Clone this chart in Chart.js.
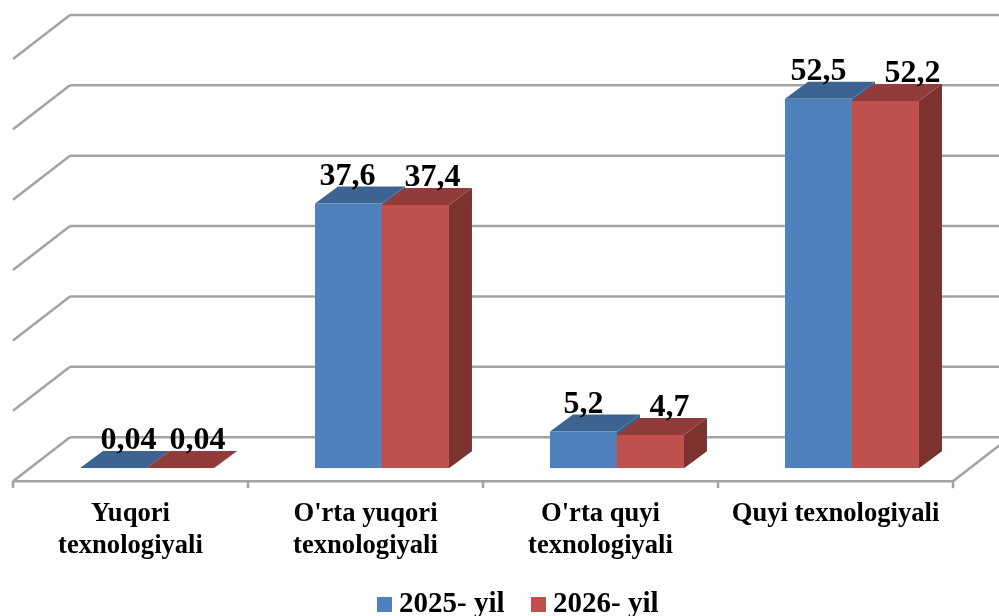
<!DOCTYPE html>
<html>
<head>
<meta charset="utf-8">
<title>Texnologiya darajasi</title>
<script src="https://cdn.jsdelivr.net/npm/chart.js@4"></script>
<style>
    html, body { margin: 0; padding: 0; background: #fff; overflow: hidden; }
    canvas { display: block; }
</style>
</head>
<body>
<canvas id="myChart" width="999" height="616"></canvas>
<script>
const categories = [
    ['Yuqori', 'texnologiyali'],
    ["O'rta yuqori", 'texnologiyali'],
    ["O'rta quyi", 'texnologiyali'],
    'Quyi texnologiyali',
];
const values2025 = [0.04, 37.6, 5.2, 52.5];
const values2026 = [0.04, 37.4, 4.7, 52.2];
const labels2025 = ['0,04', '37,6', '5,2', '52,5'];
const labels2026 = ['0,04', '37,4', '4,7', '52,2'];
const seriesNames = ['2025- yil', '2026- yil'];

// colours of each series: front, top, side
const blueFaces = ['#4f81bd', '#3d6491', '#3a5f8b'];
const redFaces = ['#c0504d', '#913c3a', '#7d3230'];

// hand placed data labels, the original has them moved around by hand
const labelShift2025 = [15, -1, 0, 0];
const labelShift2026 = [17, 17, 19, 27];

const FONT = '"Liberation Serif", "Times New Roman", serif';
const BAR_DEPTH = { x: 23, y: 17 };
const FRONT_PLANE = { x: -16.5, y: 13 }; // from the bars to the front of the floor
const BACK_PLANE = { x: 40.5, y: -31 }; // from the bars to the back wall

function polygon(ctx, points, color) {
    ctx.fillStyle = color;
    ctx.beginPath();
    points.forEach((p, i) => (i ? ctx.lineTo(p[0], p[1]) : ctx.moveTo(p[0], p[1])));
    ctx.closePath();
    ctx.fill();
}

function strokeLine(ctx, x1, y1, x2, y2) {
    ctx.beginPath();
    ctx.moveTo(x1, y1);
    ctx.lineTo(x2, y2);
    ctx.stroke();
}

const box3d = {
    id: 'box3d',
    afterLayout(chart) {
        // legend sits off centre and lower than chart.js would put it
        const legend = chart.legend;
        legend.left += 22;
        legend.right += 22;
        legend.top = 556;
        legend.bottom = legend.top + legend.height;
    },
    beforeDatasetsDraw(chart) {
        const { ctx, scales: { x, y } } = chart;
        const left = chart.chartArea.left;
        const right = chart.chartArea.right;
        ctx.save();
        ctx.strokeStyle = '#a3a3a3';
        ctx.lineWidth = 2.5;

        y.ticks.forEach((tick) => {
            const py = y.getPixelForValue(tick.value);
            const frontX = left + FRONT_PLANE.x;
            const frontY = py + FRONT_PLANE.y;
            const backX = left + BACK_PLANE.x;
            const backY = py + BACK_PLANE.y;
            strokeLine(ctx, frontX, frontY, backX, backY);
            strokeLine(ctx, backX, backY, right + BACK_PLANE.x, backY);
        });

        // floor front edge, its right side and the ticks under it
        const floorY = y.getPixelForValue(0) + FRONT_PLANE.y;
        strokeLine(ctx, left + FRONT_PLANE.x, floorY, right + FRONT_PLANE.x, floorY);
        strokeLine(ctx, right + FRONT_PLANE.x, floorY, right + BACK_PLANE.x, y.getPixelForValue(0) + BACK_PLANE.y);
        const step = x.getPixelForValue(1) - x.getPixelForValue(0);
        for (let i = 0; i <= categories.length; i++) {
            const tx = x.getPixelForValue(0) - step / 2 + i * step + FRONT_PLANE.x;
            strokeLine(ctx, tx, floorY, tx, floorY + 7);
        }

        // top and side of the bars, the front faces are the real chart.js bars
        chart.data.datasets.forEach((dataset, d) => {
            const faces = d === 0 ? blueFaces : redFaces;
            chart.getDatasetMeta(d).data.forEach((bar) => {
                const l = bar.x - bar.width / 2;
                const r = bar.x + bar.width / 2;
                const t = bar.y;
                const b = bar.base;
                polygon(ctx, [[r, t], [r + BAR_DEPTH.x, t - BAR_DEPTH.y], [r + BAR_DEPTH.x, b - BAR_DEPTH.y], [r, b]], faces[2]);
                polygon(ctx, [[l, t], [r, t], [r + BAR_DEPTH.x, t - BAR_DEPTH.y], [l + BAR_DEPTH.x, t - BAR_DEPTH.y]], faces[1]);
            });
        });
        ctx.restore();
    },
    afterDatasetsDraw(chart) {
        const { ctx } = chart;
        const texts = [labels2025, labels2026];
        const shifts = [labelShift2025, labelShift2026];
        ctx.save();
        ctx.fillStyle = '#000';
        ctx.font = 'bold 32px ' + FONT;
        ctx.textAlign = 'center';
        ctx.textBaseline = 'alphabetic';
        chart.data.datasets.forEach((dataset, d) => {
            chart.getDatasetMeta(d).data.forEach((bar, i) => {
                ctx.fillText(texts[d][i], bar.x + shifts[d][i], bar.y - 19);
            });
        });
        ctx.restore();
    },
};

new Chart(document.getElementById('myChart'), {
    type: 'bar',
    data: {
        labels: categories,
        datasets: [
            { label: seriesNames[0], data: values2025, backgroundColor: blueFaces[0], borderWidth: 0 },
            { label: seriesNames[1], data: values2026, backgroundColor: redFaces[0], borderWidth: 0 },
        ],
    },
    options: {
        responsive: false,
        animation: false,
        layout: { padding: { left: 29.5, right: 29.5, top: 46, bottom: -41 } },
        datasets: { bar: { categoryPercentage: 0.57, barPercentage: 1 } },
        scales: {
            x: {
                grid: { display: false },
                border: { display: false },
                ticks: {
                    color: '#000',
                    font: { family: FONT, size: 26.6, weight: 'bold', lineHeight: 1.2 },
                    padding: 22,
                    labelOffset: FRONT_PLANE.x,
                    maxRotation: 0,
                    autoSkip: false,
                },
            },
            y: {
                display: false,
                min: 0,
                max: 60,
                ticks: { stepSize: 10 },
            },
        },
        plugins: {
            tooltip: { enabled: false },
            legend: {
                position: 'bottom',
                labels: {
                    color: '#000',
                    font: { family: FONT, size: 29, weight: 'bold' },
                    usePointStyle: true,
                    pointStyle: 'rect',
                    boxWidth: 0.01,
                    boxHeight: 15,
                    padding: 34,
                },
            },
        },
    },
    plugins: [box3d],
});
</script>
</body>
</html>
